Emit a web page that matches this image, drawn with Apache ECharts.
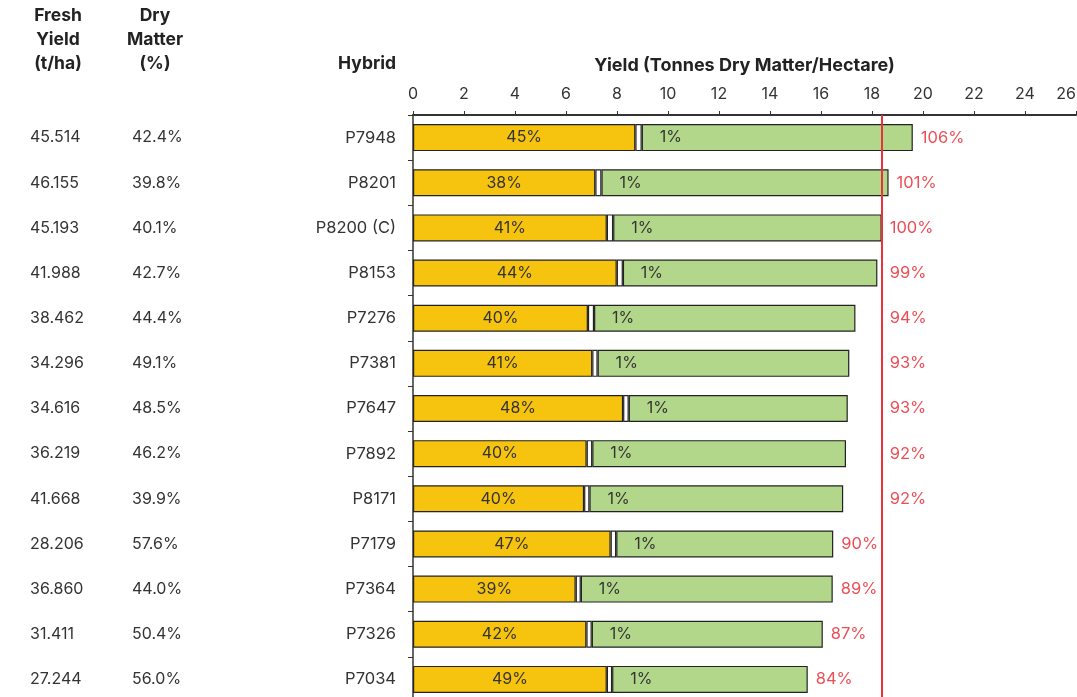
<!DOCTYPE html>
<html style="height: 100%">

<head>
    <meta charset="utf-8">
</head>

<body style="height: 100%; margin: 0">
    <div id="container" style="height: 100%"></div>
    <script type="text/javascript" src="https://cdn.jsdelivr.net/npm/echarts@6/dist/echarts.min.js"></script>
    <script type="text/javascript">
        // hybrids, top to bottom
        var hybrids = ['P7948', 'P8201', 'P8200 (C)', 'P8153', 'P7276', 'P7381', 'P7647',
            'P7892', 'P8171', 'P7179', 'P7364', 'P7326', 'P7034'];
        var freshYield = ['45.514', '46.155', '45.193', '41.988', '38.462', '34.296', '34.616',
            '36.219', '41.668', '28.206', '36.860', '31.411', '27.244'];
        var dryMatter = ['42.4%', '39.8%', '40.1%', '42.7%', '44.4%', '49.1%', '48.5%',
            '46.2%', '39.9%', '57.6%', '44.0%', '50.4%', '56.0%'];

        // t DM/ha per segment
        var grainPart = [8.72, 7.15, 7.60, 7.99, 6.86, 7.03, 8.24, 6.81, 6.71, 7.75, 6.38, 6.80, 7.60];
        var gapPart = [0.25, 0.24, 0.25, 0.24, 0.24, 0.21, 0.22, 0.22, 0.21, 0.22, 0.20, 0.21, 0.21];
        var stoverPart = [10.63, 11.26, 10.53, 9.98, 10.25, 9.87, 8.59, 9.95, 9.95, 8.51, 9.88, 9.06, 7.67];

        var grainLabels = ['45%', '38%', '41%', '44%', '40%', '41%', '48%', '40%', '40%', '47%', '39%', '42%', '49%'];
        var gapLabels = ['1%', '1%', '1%', '1%', '1%', '1%', '1%', '1%', '1%', '1%', '1%', '1%', '1%'];
        var relYield = ['106%', '101%', '100%', '99%', '94%', '93%', '93%', '92%', '92%', '90%', '89%', '87%', '84%'];

        var checkYield = 18.38;

        var FONT = 'Inter';
        var TXT = '#333';
        var RED = '#e8202a';

        // relative-yield labels: bars finishing just short of the check line get their label pushed past it
        var relPoints = hybrids.map(function (h, i) {
            var total = grainPart[i] + gapPart[i] + stoverPart[i];
            var x = (total < checkYield && total > checkYield - 1.7) ? checkYield : total;
            return [x, h];
        });

        var dom = document.getElementById("container");
        var myChart = echarts.init(dom);

        var option = {
            backgroundColor: '#fff',
            animation: false,
            textStyle: { fontFamily: FONT },
            grid: { left: 413, right: 1, top: 115, height: 587, containLabel: false, outerBoundsMode: 'none' },
            xAxis: {
                type: 'value',
                position: 'top',
                min: 0,
                max: 26,
                interval: 2,
                name: 'Yield (Tonnes Dry Matter/Hectare)',
                nameLocation: 'middle',
                nameGap: 40,
                nameTextStyle: { fontFamily: FONT, fontWeight: 'bold', fontSize: 18, color: '#222' },
                axisLine: { show: true, lineStyle: { color: '#333', width: 2 } },
                axisTick: { show: true, length: 4, lineStyle: { color: '#333', width: 1 } },
                axisLabel: { fontFamily: FONT, fontSize: 16, color: TXT, margin: 13, alignMaxLabel: 'right' },
                splitLine: { show: false }
            },
            yAxis: [{
                type: 'category',
                data: hybrids,
                inverse: true,
                axisLine: { show: true, lineStyle: { color: '#333', width: 1.5 } },
                axisTick: { show: true, length: 5, lineStyle: { color: '#333' } },
                axisLabel: { fontFamily: FONT, fontSize: 16.5, color: TXT, margin: 17 }
            }, {
                type: 'category',
                data: freshYield,
                inverse: true,
                position: 'left',
                offset: 0,
                axisLine: { show: false },
                axisTick: { show: false },
                axisLabel: { fontFamily: FONT, fontSize: 16, color: TXT, margin: 383, align: 'left' }
            }, {
                type: 'category',
                data: dryMatter,
                inverse: true,
                position: 'left',
                offset: 0,
                axisLine: { show: false },
                axisTick: { show: false },
                axisLabel: { fontFamily: FONT, fontSize: 16, color: TXT, margin: 281, align: 'left' }
            }],
            graphic: [{
                type: 'text',
                style: {
                    text: 'Fresh\nYield\n(t/ha)', x: 58, y: 40, align: 'center', verticalAlign: 'middle',
                    fontFamily: FONT, fontWeight: 'bold', fontSize: 17.5, lineHeight: 24, fill: '#222'
                }
            }, {
                type: 'text',
                style: {
                    text: 'Dry\nMatter\n(%)', x: 155, y: 40, align: 'center', verticalAlign: 'middle',
                    fontFamily: FONT, fontWeight: 'bold', fontSize: 17.5, lineHeight: 24, fill: '#222'
                }
            }, {
                type: 'text',
                style: {
                    text: 'Hybrid', x: 396, y: 64, align: 'right', verticalAlign: 'middle',
                    fontFamily: FONT, fontWeight: 'bold', fontSize: 17.5, fill: '#222'
                }
            }],
            series: [{
                name: 'grain',
                type: 'bar',
                stack: 'dm',
                barWidth: 27,
                data: grainPart,
                itemStyle: { color: '#f6c30f', borderColor: '#222', borderWidth: 1.2 },
                label: {
                    show: true, position: 'inside', color: TXT, fontFamily: FONT, fontSize: 16,
                    formatter: function (p) { return grainLabels[p.dataIndex]; }
                }
            }, {
                name: 'gap',
                type: 'bar',
                stack: 'dm',
                barWidth: 27,
                data: gapPart,
                itemStyle: { color: '#fff', borderColor: '#222', borderWidth: 1.2 },
                label: {
                    show: true, position: 'right', distance: 18, color: TXT, fontFamily: FONT, fontSize: 16,
                    formatter: function (p) { return gapLabels[p.dataIndex]; }
                }
            }, {
                name: 'stover',
                type: 'bar',
                stack: 'dm',
                barWidth: 27,
                data: stoverPart,
                itemStyle: { color: '#b3d78a', borderColor: '#222', borderWidth: 1.2 },
                markLine: {
                    silent: true,
                    symbol: 'none',
                    label: { show: false },
                    lineStyle: { color: '#e8333a', width: 2, type: 'solid' },
                    data: [{ xAxis: checkYield }]
                }
            }, {
                name: 'relative',
                type: 'scatter',
                symbolSize: 0,
                silent: true,
                data: relPoints,
                label: {
                    show: true, position: 'right', distance: 8, color: RED, fontFamily: FONT, fontSize: 16.5,
                    formatter: function (p) { return relYield[p.dataIndex]; }
                }
            }]
        };

        myChart.setOption(option);
    </script>
</body>

</html>
